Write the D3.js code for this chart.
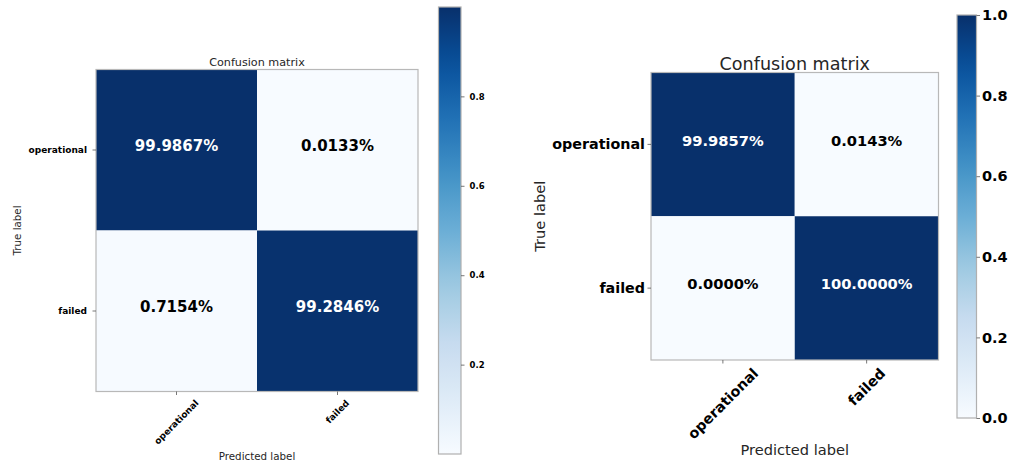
<!DOCTYPE html>
<html>
<head>
<meta charset="utf-8">
<script src="https://cdn.jsdelivr.net/npm/d3@7"></script>
<style>
  body { margin: 0; background: #fff; }
  svg { display: block; font-family: "DejaVu Sans", sans-serif; }
</style>
</head>
<body>
<div id="chart"></div>
<script>
// Class names (rows = true label, columns = predicted label)
const classes = ["operational", "failed"];

// Row-normalised confusion matrices
const matrixLeft = [
    [0.999867, 0.000133],
    [0.007154, 0.992846]
];
const matrixRight = [
    [0.999857, 0.000143],
    [0.000000, 1.000000]
];

// Colorbar tick labels
const cbarTicksLeft = [0.2, 0.4, 0.6, 0.8];
const cbarTicksRight = [0.0, 0.2, 0.4, 0.6, 0.8, 1.0];

const width = 1009;
const height = 464;

const svg = d3.select("#chart")
    .append("svg")
    .attr("width", width)
    .attr("height", height);

// matplotlib "Blues" is a linear ramp through the 9 ColorBrewer colours
const blues = d3.schemeBlues[9];
const bluesRamp = d3.scaleLinear()
    .domain(d3.range(blues.length).map(i => i / (blues.length - 1)))
    .range(blues)
    .interpolate(d3.interpolateRgb)
    .clamp(true);

const defs = svg.append("defs");
const grad = defs.append("linearGradient")
    .attr("id", "bluesGrad")
    .attr("x1", 0).attr("y1", 1)
    .attr("x2", 0).attr("y2", 0);
grad.selectAll("stop")
    .data(d3.range(0, 1.0001, 0.05))
    .enter()
    .append("stop")
    .attr("offset", d => d)
    .attr("stop-color", d => bluesRamp(d));

function drawPanel(matrix, cbarTicks, opt) {
    const g = svg.append("g");
    const flat = matrix.flat();
    const vmin = opt.vmin !== undefined ? opt.vmin : d3.min(flat);
    const vmax = opt.vmax !== undefined ? opt.vmax : d3.max(flat);
    const thresh = vmax / 2;
    const color = v => bluesRamp((v - vmin) / (vmax - vmin));

    const x = d3.scaleBand().domain(classes).range([opt.x, opt.x + opt.size]);
    const y = d3.scaleBand().domain(classes).range([opt.y, opt.y + opt.size]);

    const cells = [];
    matrix.forEach((row, i) => row.forEach((v, j) => cells.push({ t: classes[i], p: classes[j], v: v })));

    // cells
    g.selectAll("rect.cell")
        .data(cells)
        .enter()
        .append("rect")
        .attr("class", "cell")
        .attr("x", d => x(d.p))
        .attr("y", d => y(d.t))
        .attr("width", x.bandwidth())
        .attr("height", y.bandwidth())
        .attr("fill", d => color(d.v));

    // cell text
    g.selectAll("text.val")
        .data(cells)
        .enter()
        .append("text")
        .attr("class", "val")
        .attr("x", d => x(d.p) + x.bandwidth() / 2)
        .attr("y", d => y(d.t) + y.bandwidth() / 2 + opt.cellFont * 0.08)
        .attr("text-anchor", "middle")
        .attr("font-size", opt.cellFont)
        .attr("font-weight", "bold")
        .attr("fill", d => d.v > thresh ? "#ffffff" : "#000000")
        .text(d => (d.v * 100).toFixed(4) + "%");

    // frame
    g.append("rect")
        .attr("x", opt.x).attr("y", opt.y)
        .attr("width", opt.size).attr("height", opt.size)
        .attr("fill", "none")
        .attr("stroke", "#b8b8b8")
        .attr("stroke-width", 1.2);

    // y ticks
    classes.forEach(c => {
        const cy = y(c) + y.bandwidth() / 2;
        g.append("line")
            .attr("x1", opt.x - 3.5).attr("x2", opt.x)
            .attr("y1", cy).attr("y2", cy)
            .attr("stroke", "#555").attr("stroke-width", 0.8);
        g.append("text")
            .attr("x", opt.x - opt.tickPad)
            .attr("y", cy)
            .attr("dominant-baseline", "central")
            .attr("text-anchor", "end")
            .attr("font-size", opt.tickFont)
            .attr("font-weight", "bold")
            .attr("fill", "#000")
            .text(c);
    });

    // x ticks, rotated 45deg with the bounding box centred under the tick
    const bottom = opt.y + opt.size;
    classes.forEach(c => {
        const cx = x(c) + x.bandwidth() / 2;
        g.append("line")
            .attr("x1", cx).attr("x2", cx)
            .attr("y1", bottom).attr("y2", bottom + 3.5)
            .attr("stroke", "#555").attr("stroke-width", 0.8);
        const t = g.append("text")
            .attr("text-anchor", "middle")
            .attr("dominant-baseline", "central")
            .attr("font-size", opt.tickFont)
            .attr("font-weight", "bold")
            .attr("fill", "#000")
            .text(c);
        const w = t.node().getComputedTextLength();
        const r = (w + opt.tickFont * 0.95) / Math.SQRT2;
        t.attr("transform", `translate(${cx},${bottom + opt.xTickPad + r / 2}) rotate(-45)`);
    });

    // title
    g.append("text")
        .attr("x", opt.x + opt.size / 2)
        .attr("y", opt.titleY)
        .attr("text-anchor", "middle")
        .attr("font-size", opt.titleFont)
        .attr("fill", "#262626")
        .text("Confusion matrix");

    // axis labels
    g.append("text")
        .attr("x", opt.x + opt.size / 2)
        .attr("y", opt.xLabelY)
        .attr("text-anchor", "middle")
        .attr("font-size", opt.labelFont)
        .attr("fill", "#262626")
        .text("Predicted label");

    g.append("text")
        .attr("transform", `translate(${opt.yLabelX},${opt.y + opt.size / 2}) rotate(-90)`)
        .attr("text-anchor", "middle")
        .attr("font-size", opt.labelFont)
        .attr("fill", "#262626")
        .text("True label");

    // colorbar
    const cb = opt.cbar;
    const cbScale = d3.scaleLinear().domain([vmin, vmax]).range([cb.y + cb.h, cb.y]);
    g.append("rect")
        .attr("x", cb.x).attr("y", cb.y)
        .attr("width", cb.w).attr("height", cb.h)
        .attr("fill", "url(#bluesGrad)")
        .attr("stroke", "#b0b0b0")
        .attr("stroke-width", 1.2);

    const cbAxis = d3.axisRight(cbScale)
        .tickValues(cbarTicks)
        .tickFormat(d3.format(".1f"))
        .tickSize(3.5)
        .tickPadding(cb.pad);
    const ax = g.append("g")
        .attr("transform", `translate(${cb.x + cb.w},0)`)
        .call(cbAxis);
    ax.select(".domain").remove();
    ax.selectAll(".tick line").attr("stroke", "#555").attr("stroke-width", 0.8);
    ax.selectAll(".tick text")
        .attr("font-family", "DejaVu Sans, sans-serif")
        .attr("font-size", cb.font)
        .attr("font-weight", "bold")
        .attr("fill", "#000");
}

drawPanel(matrixLeft, cbarTicksLeft, {
    x: 96, y: 69.5, size: 322,
    cellFont: 15, tickFont: 9, tickPad: 9, xTickPad: 7,
    titleFont: 11.2, titleY: 66,
    labelFont: 10.3, xLabelY: 460, yLabelX: 21,
    cbar: { x: 438.5, y: 7, w: 22.5, h: 447, font: 8.5, pad: 5 }
});

drawPanel(matrixRight, cbarTicksRight, {
    x: 651, y: 72.5, size: 287.5,
    vmin: 0, vmax: 1,
    cellFont: 14.7, tickFont: 14.3, tickPad: 6, xTickPad: 6,
    titleFont: 17.6, titleY: 70,
    labelFont: 14.6, xLabelY: 455, yLabelX: 545,
    cbar: { x: 957, y: 15, w: 19.5, h: 403, font: 14.5, pad: 2 }
});
</script>
</body>
</html>
